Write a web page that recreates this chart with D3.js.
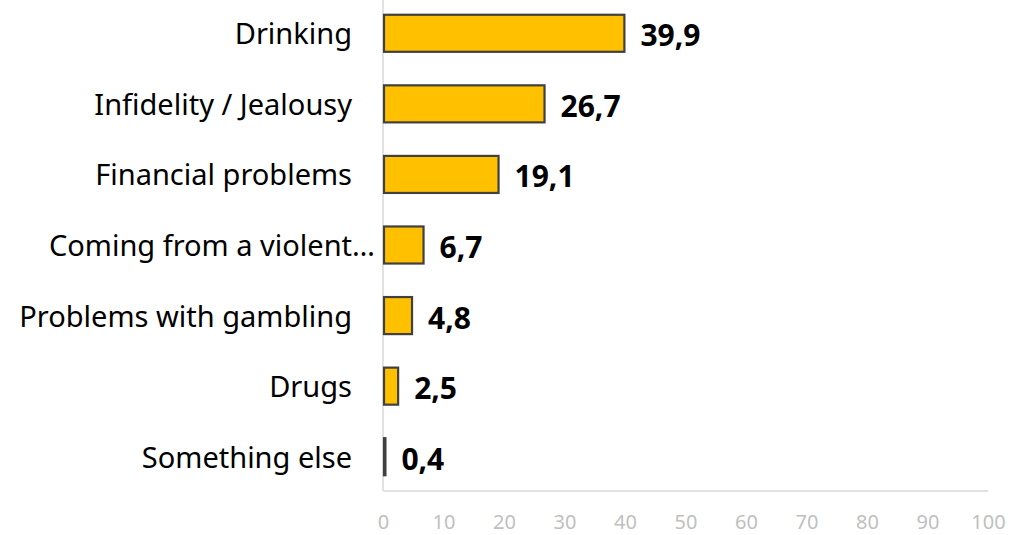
<!DOCTYPE html>
<html><head><meta charset="utf-8">
<script src="https://cdn.jsdelivr.net/npm/d3@7"></script>
<style>body{margin:0;background:#fff}svg{display:block}</style>
</head><body><svg id="c" width="1028" height="535"></svg>
<script>
const categories = ["Drinking","Infidelity / Jealousy","Financial problems","Coming from a violent\u2026","Problems with gambling","Drugs","Something else"];
const values = [39.9,26.7,19.1,6.7,4.8,2.5,0.4];
const tickValues = [0,10,20,30,40,50,60,70,80,90,100];

const svg = d3.select("#c");
const font = "'Noto Sans', 'Open Sans', sans-serif";
const x = d3.scaleLinear().domain([0,100]).range([383,988]);
const y = d3.scaleBand().domain(categories).range([-2,492]).paddingInner(0.475).paddingOuter(0.2375);

// axis lines
svg.append("line").attr("x1",x(0)).attr("x2",x(0)).attr("y1",0).attr("y2",491).attr("stroke","#d9d9d9").attr("stroke-width",1.5);
svg.append("line").attr("x1",x(0)).attr("x2",x(100)).attr("y1",491).attr("y2",491).attr("stroke","#d9d9d9").attr("stroke-width",1.5);

// x axis tick labels
const ax = svg.append("g").attr("transform","translate(0,514)")
  .call(d3.axisBottom(x).tickValues(tickValues).tickSize(0).tickPadding(0).tickFormat(d3.format("d")));
ax.attr("font-size",null).attr("font-family",null);
ax.select(".domain").remove();
ax.selectAll("text").attr("fill","#bfbfbf").attr("dy",null).attr("y",15)
  .style("font-family",font).style("font-size","20px");

const data = categories.map((c,i)=>({c, v: values[i]}));

svg.selectAll("rect.bar").data(data).join("rect").attr("class","bar")
  .attr("x",x(0)+1).attr("y",d=>y(d.c)).attr("width",d=>Math.max(0,x(d.v)-x(0)-1)).attr("height",y.bandwidth())
  .attr("fill","#FFC000").attr("stroke","#404040").attr("stroke-width",2.2);

svg.selectAll("text.val").data(data).join("text").attr("class","val")
  .attr("x",d=>x(d.v)+16).attr("y",d=>y(d.c)+y.bandwidth()/2+13)
  .style("font-family",font).style("font-size","30px").style("font-weight","bold").attr("fill","#000")
  .text(d=>d3.format(".1f")(d.v).replace(".",","));

svg.selectAll("text.cat").data(data).join("text").attr("class","cat")
  .attr("x",d=>d.c.endsWith("\u2026") ? x(0)-8 : x(0)-31)
  .attr("y",d=>y(d.c)+y.bandwidth()/2+11)
  .attr("text-anchor","end")
  .style("font-family",font).style("font-size","29px").attr("fill","#000")
  .text(d=>d.c);
</script></body></html>
